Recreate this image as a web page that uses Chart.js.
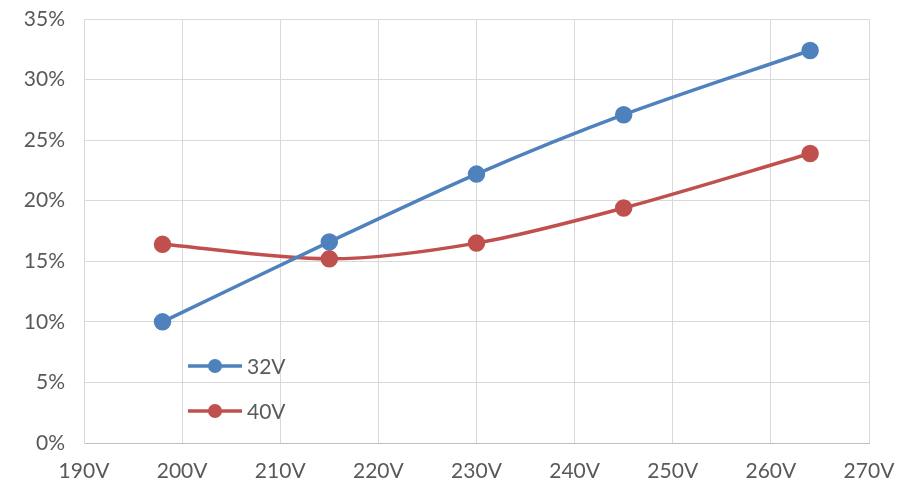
<!DOCTYPE html>
<html>
<head>
<meta charset="utf-8">
<script src="https://cdn.jsdelivr.net/npm/chart.js@4"></script>
<style>
  html, body { margin: 0; padding: 0; background: #fff; }
  #wrap { width: 908px; height: 487px; }
</style>
</head>
<body>
<div id="wrap"><canvas id="chart"></canvas></div>
<script>
// data
const voltages = [198, 215, 230, 245, 264];
const series32V = [10.0, 16.6, 22.2, 27.1, 32.4];
const series40V = [16.4, 15.2, 16.5, 19.4, 23.9];
const seriesNames = ['32V', '40V'];
const seriesColors = ['#4f81bd', '#c0504d'];

const toPoints = vals => vals.map((v, i) => ({ x: voltages[i], y: v / 100 }));

// legend sits inside the plot, lower left
const insideLegend = {
    id: 'insideLegend',
    afterDraw(chart) {
        const ctx = chart.ctx;
        const area = chart.chartArea;
        ctx.save();
        chart.data.datasets.forEach((ds, i) => {
            const y = area.top + 347 + i * 45;
            const x0 = area.left + 104;
            ctx.strokeStyle = ds.borderColor;
            ctx.lineWidth = 3.5;
            ctx.beginPath();
            ctx.moveTo(x0, y);
            ctx.lineTo(x0 + 54, y);
            ctx.stroke();
            ctx.fillStyle = ds.borderColor;
            ctx.beginPath();
            ctx.arc(x0 + 27, y, 7, 0, Math.PI * 2);
            ctx.fill();
            ctx.fillStyle = '#595959';
            ctx.font = '21px Lato';
            ctx.textBaseline = 'middle';
            ctx.fillText(ds.label, x0 + 59, y + 1);
        });
        ctx.restore();
    }
};

new Chart(document.getElementById('chart'), {
    type: 'line',
    data: {
        datasets: [
            {
                label: seriesNames[0],
                data: toPoints(series32V),
                borderColor: seriesColors[0],
                backgroundColor: seriesColors[0],
                borderWidth: 3.5,
                pointRadius: 7,
                tension: 0.3
            },
            {
                label: seriesNames[1],
                data: toPoints(series40V),
                borderColor: seriesColors[1],
                backgroundColor: seriesColors[1],
                borderWidth: 3.5,
                pointRadius: 7,
                tension: 0.3
            }
        ]
    },
    options: {
        responsive: true,
        maintainAspectRatio: false,
        animation: false,
        layout: { padding: { top: 19, right: 39, left: 0, bottom: 0 } },
        plugins: { legend: { display: false }, tooltip: { enabled: false } },
        scales: {
            x: {
                type: 'linear',
                min: 190, max: 270,
                ticks: {
                    stepSize: 10,
                    color: '#595959',
                    font: { family: 'Lato', size: 21 },
                    padding: 16,
                    maxRotation: 0,
                    callback: v => v + 'V'
                },
                grid: { color: '#d9d9d9', lineWidth: 1, drawTicks: false },
                border: { color: '#bfbfbf', width: 1 },
                afterFit: s => { s.height = 44; s.paddingLeft = 0; s.paddingRight = 0; }
            },
            y: {
                min: 0, max: 0.35,
                ticks: {
                    stepSize: 0.05,
                    color: '#595959',
                    font: { family: 'Lato', size: 21 },
                    padding: 19,
                    callback: v => Math.round(v * 100) + '%'
                },
                grid: { color: '#d9d9d9', lineWidth: 1, drawTicks: false },
                border: { color: '#d9d9d9', width: 1 },
                afterFit: s => { s.width = 84; s.paddingTop = 0; s.paddingBottom = 0; }
            }
        }
    },
    plugins: [insideLegend]
});
</script>
</body>
</html>
